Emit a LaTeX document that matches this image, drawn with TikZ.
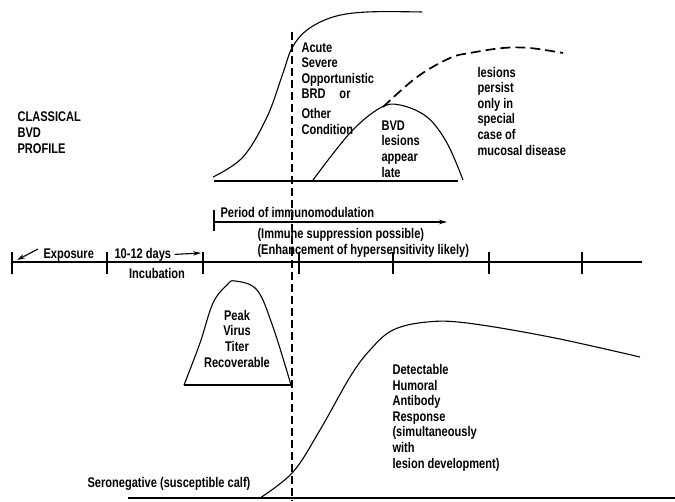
\documentclass[tikz,border=0pt]{standalone}
\usepackage{fontspec}
\setmainfont{Liberation Sans}[FakeStretch=0.79, UprightFont={* Bold}]
\usetikzlibrary{arrows.meta}

\begin{document}
\begin{tikzpicture}[x=1pt, y=-1pt, line width=1.1pt,
    lbl/.style={font=\fontsize{14}{15.6}\selectfont, align=left, inner sep=0pt, anchor=base west},
    tip/.style={-{Stealth[length=8pt,width=4.5pt]}},
    onset/.style={line width=1.4pt, dash pattern=on 8pt off 4pt},
    persistline/.style={line width=1.7pt, dash pattern=on 10pt off 5pt}]
    \useasboundingbox (0,0) rectangle (675,501);

    % time axis
    \draw (12,262) -- (642,262);
    \foreach \x in {12,107,203,299,393,489,582}
        \draw (\x,252) -- (\x,274);
    \node[lbl] (exposure) at (43,258) {Exposure};
    \coordinate (expend) at (17,260);
    \draw[tip] (38,249) -- (expend);
    \node[lbl] (days) at (114,258) {10-12 days};
    \coordinate (daysend) at (201,253);
    \draw[tip] ([xshift=3pt]days.east) -- (daysend);
    \node[lbl, anchor=base] (incub) at (157,278) {Incubation};

    % immunomodulation
    \coordinate (pstart) at (214,222);
    \coordinate (pend) at (447,222);
    \draw (214,210) -- (214,231);
    \draw[tip] (pstart) -- (pend);
    \node[lbl] (period) at (220,217) {Period of immunomodulation};
    \node[lbl] (suppress) at (257,238) {(Immune suppression possible)};
    \node[lbl] (enhance) at (257,254) {(Enhancement of hypersensitivity likely)};

    % onset of disease
    \draw[onset] (292,32) -- (292,501);

    % upper profile (multi-line nodes sit on their last baseline)
    \node[lbl] (profile) at (17,153) {CLASSICAL\\BVD\\PROFILE};
    \draw (214,181) -- (458,181);
    \draw plot[smooth, tension=0.6] coordinates {(213,177) (243,157) (267,117) (283,73) (292,48) (307,30) (333,17) (367,12) (422,12)};
    \node[lbl] (acute) at (301,134) {Acute\\Severe\\Opportunistic\\BRD\hspace{14pt}or\\[4pt]Other\\Condition};
    \draw plot[smooth, tension=0.6] coordinates {(313,180) (350,133) (380,108) (400,105) (427,117) (447,143) (463,180)};
    \draw[persistline] plot[smooth, tension=0.6] coordinates {(383,107) (417,77) (450,58) (470,53) (503,48) (530,48) (563,53)};
    \node[lbl] (bvdlate) at (381,177) {BVD\\lesions\\appear\\late};
    \node[lbl] (persist) at (477,155) {lesions\\persist\\only in\\special\\case of\\mucosal disease};

    % virus titer
    \draw (184,385) -- (291,385);
    \draw plot[smooth, tension=0.6] coordinates {(184,385) (200,343) (213,303) (227,285) (235,281) (257,290) (273,327) (291,385)};
    \node[lbl, align=center, anchor=base] (peak) at (237,367) {Peak\\Virus\\Titer\\Recoverable};

    % antibody response
    \draw (128,498) -- (675,498);
    \draw plot[smooth, tension=0.6] coordinates {(260,498) (293,472) (320,430) (350,377) (370,350) (393,330) (427,322) (467,323) (550,337) (640,357)};
    \node[lbl] (antibody) at (392,468) {Detectable\\Humoral\\Antibody\\Response\\(simultaneously\\with\\lesion development)};
    \node[lbl] (seroneg) at (87,487) {Seronegative (susceptible calf)};
\end{tikzpicture}
\end{document}
